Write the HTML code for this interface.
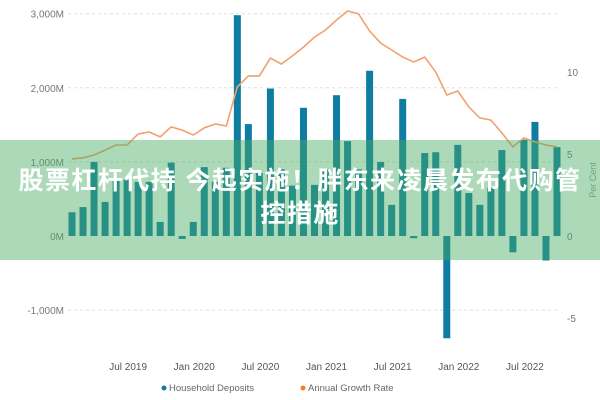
<!DOCTYPE html>
<html><head><meta charset="utf-8"><style>
body{margin:0;width:600px;height:400px;background:#fff;overflow:hidden;position:relative;font-family:"Liberation Sans","Noto Sans CJK SC",sans-serif}
#band{position:absolute;left:0;top:140px;width:600px;height:120px;background:rgba(71,171,98,0.45)}
#headline{position:absolute;left:0;top:165px;width:600px;text-align:center;color:#fff;font-weight:bold;font-size:25px;line-height:33px;letter-spacing:1.4px;font-family:"Liberation Sans","Noto Sans CJK SC",sans-serif}
</style></head><body>
<svg id="chart" width="600" height="400" style="position:absolute;left:0;top:0"></svg>
<div id="band"></div>
<div id="headline">股票杠杆代持 今起实施！胖东来凌晨发布代购管<br>控措施</div>
<script>
const months = ["Feb 2019","Mar 2019","Apr 2019","May 2019","Jun 2019","Jul 2019","Aug 2019","Sep 2019","Oct 2019","Nov 2019","Dec 2019","Jan 2020","Feb 2020","Mar 2020","Apr 2020","May 2020","Jun 2020","Jul 2020","Aug 2020","Sep 2020","Oct 2020","Nov 2020","Dec 2020","Jan 2021","Feb 2021","Mar 2021","Apr 2021","May 2021","Jun 2021","Jul 2021","Aug 2021","Sep 2021","Oct 2021","Nov 2021","Dec 2021","Jan 2022","Feb 2022","Mar 2022","Apr 2022","May 2022","Jun 2022","Jul 2022","Aug 2022","Sep 2022","Oct 2022"];
const deposits = [320,390,1000,460,760,760,730,730,190,990,-40,190,930,730,920,2980,1510,850,1990,900,680,1730,690,900,1900,1280,900,2230,1000,420,1850,-30,1120,1130,-1380,1230,580,420,650,1160,-220,1300,1540,-330,1200];
const growth = [4.7,4.76,4.94,5.24,5.55,5.55,6.22,6.34,6.04,6.65,6.46,6.16,6.59,6.83,6.71,9.09,9.76,9.76,10.85,10.49,10.98,11.52,12.13,12.56,13.17,13.72,13.54,12.5,11.77,11.34,10.91,10.61,10.91,10.0,8.6,8.84,7.87,7.2,7.07,6.28,5.43,5.98,5.73,5.55,5.43];
const leftTicks = [3000,2000,1000,0,-1000];
const leftTickLabels = ["3,000M","2,000M","1,000M","0M","-1,000M"];
const rightTicks = [10,5,0,-5];
const xTickLabels = ["Jul 2019","Jan 2020","Jul 2020","Jan 2021","Jul 2021","Jan 2022","Jul 2022"];
const xTickIndex = [5,11,17,23,29,35,41];

const NS="http://www.w3.org/2000/svg";
const svg=document.getElementById('chart');
const x0=72, step=(557-72)/(months.length-1);
const xs=i=>x0+i*step;
const yL=v=>236-v*0.0741;
const yR=v=>236-v*16.4;
function mk(t,a,p){const e=document.createElementNS(NS,t);for(const k in a)e.setAttribute(k,a[k]);(p||svg).appendChild(e);return e;}

leftTicks.forEach((v,i)=>{
  if(v!==0){const g=mk('line',{x1:68,x2:558,y1:yL(v),y2:yL(v),stroke:'#ddd','stroke-dasharray':'3,3'});
  
  }
  const t=mk('text',{x:64,y:yL(v)+4,'text-anchor':'end','font-size':10,fill:'#777'});
  t.textContent=leftTickLabels[i];
  
  
});
rightTicks.forEach(v=>{
  const t=mk('text',{x:567,y:yR(v)+4,'font-size':10,fill:'#777'});
  t.textContent=String(v);
  
  
});
const rt=mk('text',{x:0,y:0,'font-size':9,fill:'#999','text-anchor':'middle',transform:'translate(596,180) rotate(-90)'});
rt.textContent='Per Cent';



deposits.forEach((v,i)=>{
  const y=Math.min(yL(v),yL(0)), h=Math.abs(yL(v)-yL(0));
  const b=mk('rect',{x:xs(i)-3.5,y:y,width:7,height:Math.max(h,1.5),fill:'#0f7ca2'});
  
  
});
const pts=growth.map((v,i)=>xs(i).toFixed(1)+','+yR(v).toFixed(1)).join(' ');
const ln=mk('polyline',{points:pts,fill:'none',stroke:'#f3a070','stroke-width':1.6});



xTickLabels.forEach((s,i)=>{
  const t=mk('text',{x:xs(xTickIndex[i])+1,y:370,'text-anchor':'middle','font-size':10,fill:'#555'});
  t.textContent=s;
  
  
});
const l1=mk('circle',{cx:164,cy:388,r:2.5,fill:'#0f7ca2'});


const lt1=mk('text',{x:169,y:391,'font-size':9.5,fill:'#666'});lt1.textContent='Household Deposits';


const l2=mk('circle',{cx:303,cy:388,r:2.5,fill:'#f08030'});


const lt2=mk('text',{x:308,y:391,'font-size':9.5,fill:'#666'});lt2.textContent='Annual Growth Rate';


</script>
</body></html>
